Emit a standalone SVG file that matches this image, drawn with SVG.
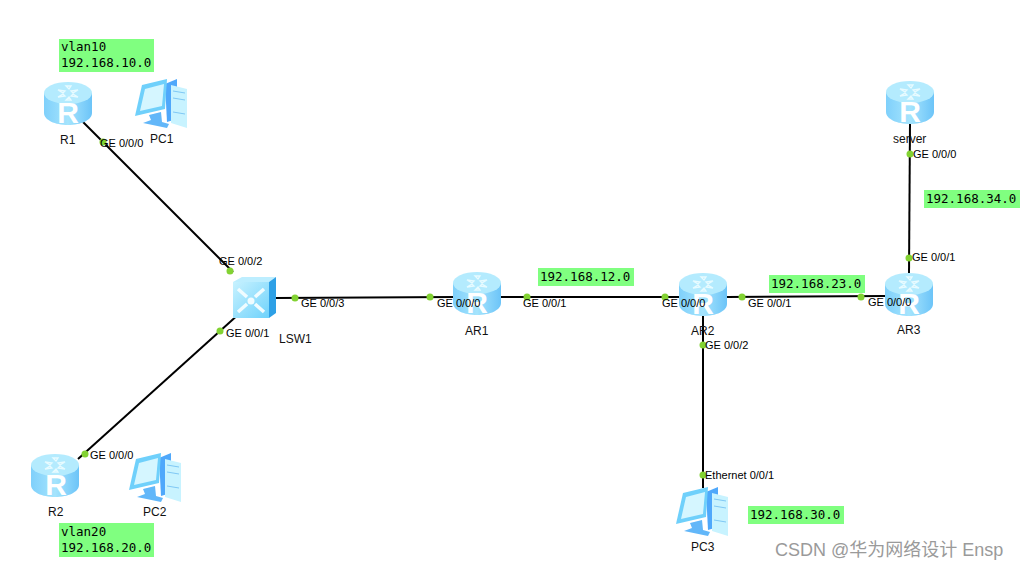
<svg xmlns="http://www.w3.org/2000/svg" width="1031" height="570" viewBox="0 0 1031 570">
<style>
.lb{font:11px "Liberation Sans",Arial,sans-serif;fill:#000}
.nm{font:12px "Liberation Sans",Arial,sans-serif;fill:#111}
.mono{font:12.5px "DejaVu Sans Mono",monospace;fill:#000}
.g{fill:#80ff80}
.ln{stroke:#000;stroke-width:2;fill:none}
.dot{fill:#82d232}
.wm{font:18px "Liberation Sans","Noto Sans CJK SC",sans-serif;fill:#9a9a9a}
.rr{font:bold 30px "Liberation Sans",Arial,sans-serif;fill:#fff;text-anchor:middle}
</style>
<defs>
<linearGradient id="rb" x1="0" x2="1" y1="0" y2="0"><stop offset="0" stop-color="#7fd0fb"/><stop offset=".5" stop-color="#a5e4fd"/><stop offset="1" stop-color="#6cc4f8"/></linearGradient>
<linearGradient id="sw" x1="0" x2="1" y1="0" y2="1"><stop offset="0" stop-color="#c8f2ff"/><stop offset="1" stop-color="#6fd2fb"/></linearGradient>
<g id="router">
<path d="M0 11V31C0 38 11 43 24 43S48 38 48 31V11Z" fill="url(#rb)"/>
<ellipse cx="24" cy="11" rx="24" ry="11" fill="#b4ebfe"/>
<path d="M14 8l7 1-2 2zM34 8l-7 1 2 2zM14 15l7-1-2-2zM34 15l-7-1 2-2zM22 4h5l-2 3zM22 18h5l-2-3z" fill="none" stroke="#e8fbff" stroke-width="1.3"/>
</g>
<g id="pc">
<path d="M30 5L42 0V40L32 43Z" fill="#4fa8fb"/>
<path d="M36 6L52 10V49L36 44Z" fill="#c8f3ff"/>
<path d="M38 12L50 14M38 19L50 21M38 33L50 35" stroke="#7fc8f5" stroke-width="1"/>
<path d="M7 6L32 0 30 30 0 37Z" fill="#6fd0fb"/>
<path d="M10 10L29 5 27 27 5 32Z" fill="#d5f6ff"/>
<path d="M14 36L26 33 27 43 34 45 32 49 8 44 16 41Z" fill="#62b7f9"/>
</g>
<g id="switch">
<path d="M0 5H36V41H0Z" fill="url(#sw)"/>
<path d="M0 5L9 0H43L36 5Z" fill="#bdeeff"/>
<path d="M36 5L43 0V36L36 41Z" fill="#2ea0e6"/>
<circle cx="18" cy="24" r="3.5" fill="#f0fcff"/>
<path d="M5 12L14 20M31 12L22 20M5 35L14 27M31 35L22 27" stroke="#f0fcff" stroke-width="3.5" fill="none"/>
</g>
</defs>
<rect width="1031" height="570" fill="#fff"/>
<g id="connectors">
<path class="ln" d="M83 122L233 272"/>
<path class="ln" d="M240 313L78 459"/>
<path class="ln" d="M276 298L455 297"/>
<path class="ln" d="M500 297H680"/>
<path class="ln" d="M727 297L885 296"/>
<path class="ln" d="M703 315V488"/>
<path class="ln" d="M910 123L909 273"/>
<g class="dot">
<circle cx="103" cy="142" r="3.5"/><circle cx="230" cy="271" r="3.5"/><circle cx="220" cy="331" r="3.5"/><circle cx="85" cy="454" r="3.5"/>
<circle cx="295" cy="298" r="3.5"/><circle cx="430" cy="297" r="3.5"/><circle cx="527" cy="297" r="3.5"/><circle cx="665" cy="297" r="3.5"/>
<circle cx="742" cy="297" r="3.5"/><circle cx="861" cy="297" r="3.5"/><circle cx="703" cy="345" r="3.5"/><circle cx="703" cy="475" r="3.5"/>
<circle cx="910" cy="154" r="3.5"/><circle cx="909" cy="258" r="3.5"/>
</g>
</g>
<g id="R1"><use href="#router" x="44" y="82"/><text class="rr" x="68" y="123">R</text><text class="nm" x="60" y="144">R1</text></g>
<g id="PC1"><use href="#pc" x="135" y="79"/><text class="nm" x="150" y="143">PC1</text></g>
<g id="R2"><use href="#router" x="31" y="454"/><text class="rr" x="56" y="495">R</text><text class="nm" x="48" y="516">R2</text></g>
<g id="PC2"><use href="#pc" x="129" y="453"/><text class="nm" x="143" y="516">PC2</text></g>
<g id="LSW1"><use href="#switch" x="233" y="277"/><text class="nm" x="279" y="343">LSW1</text></g>
<g id="AR1"><use href="#router" x="453" y="272"/><text class="rr" x="477" y="313">R</text><text class="nm" x="465" y="335">AR1</text></g>
<g id="AR2"><use href="#router" x="679" y="273"/><text class="rr" x="703" y="314">R</text><text class="nm" x="691" y="335">AR2</text></g>
<g id="AR3"><use href="#router" x="885" y="273"/><text class="rr" x="909" y="314">R</text><text class="nm" x="897" y="334">AR3</text></g>
<g id="server"><use href="#router" x="886" y="81"/><text class="rr" x="910" y="122">R</text><text class="nm" x="893" y="143">server</text></g>
<g id="PC3"><use href="#pc" x="676" y="487"/><text class="nm" x="691" y="551">PC3</text></g>
<g id="port-labels">
<text class="lb" x="100" y="147">GE 0/0/0</text>
<text class="lb" x="219" y="265">GE 0/0/2</text>
<text class="lb" x="226" y="337">GE 0/0/1</text>
<text class="lb" x="301" y="307">GE 0/0/3</text>
<text class="lb" x="90" y="459">GE 0/0/0</text>
<text class="lb" x="437" y="307">GE 0/0/0</text>
<text class="lb" x="523" y="307">GE 0/0/1</text>
<text class="lb" x="662" y="307">GE 0/0/0</text>
<text class="lb" x="748" y="307">GE 0/0/1</text>
<text class="lb" x="868" y="306">GE 0/0/0</text>
<text class="lb" x="705" y="349">GE 0/0/2</text>
<text class="lb" x="705" y="479">Ethernet 0/0/1</text>
<text class="lb" x="913" y="158">GE 0/0/0</text>
<text class="lb" x="912" y="261">GE 0/0/1</text>
</g>
<g id="notes">
<rect class="g" x="59" y="39" width="95" height="33"/>
<text class="mono" x="61" y="51">vlan10</text><text class="mono" x="61" y="67">192.168.10.0</text>
<rect class="g" x="59" y="523" width="95" height="34"/>
<text class="mono" x="61" y="536">vlan20</text><text class="mono" x="61" y="552">192.168.20.0</text>
<rect class="g" x="538" y="268" width="96" height="18"/><text class="mono" x="540" y="281">192.168.12.0</text>
<rect class="g" x="769" y="275" width="96" height="18"/><text class="mono" x="771" y="288">192.168.23.0</text>
<rect class="g" x="924" y="190" width="96" height="18"/><text class="mono" x="926" y="203">192.168.34.0</text>
<rect class="g" x="748" y="506" width="96" height="18"/><text class="mono" x="750" y="519">192.168.30.0</text>
</g>
<text class="wm" x="775" y="556">CSDN @华为网络设计 Ensp</text>
</svg>
